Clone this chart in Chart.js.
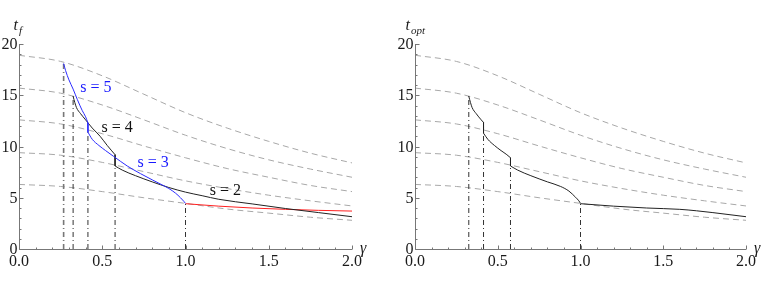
<!DOCTYPE html>
<html>
<head>
<meta charset="utf-8">
<script src="https://cdn.jsdelivr.net/npm/chart.js@4"></script>
<style>
  html, body { margin: 0; padding: 0; background: #fff; }
  #wrap { position: relative; width: 763px; height: 288px; }
  .box { position: absolute; top: 0; height: 288px; }
</style>
</head>
<body>
<div id="wrap">
  <div class="box" style="left:0;width:380px"><canvas id="tf-chart" width="380" height="288"></canvas></div>
  <div class="box" style="left:380px;width:383px"><canvas id="topt-chart" width="383" height="288"></canvas></div>
</div>
<script>
const SERIF = '"Liberation Serif", serif';

// axes / ticks
const xTickValues = [0, 0.5, 1, 1.5, 2];
const xTickLabels = ['0.0', '0.5', '1.0', '1.5', '2.0'];
const yTickValues = [0, 5, 10, 15, 20];
const yTickLabels = ['0', '5', '10', '15', '20'];

// dashed reference curves (same on both panels)
const gammaGrid = [0, 0.25, 0.5, 0.75, 1, 1.25, 1.5, 1.75, 2];
const level6 = [18.9, 18.3, 16.9, 15.1, 13.3, 11.8, 10.5, 9.35, 8.4];
const level5 = [15.7, 15.2, 14.05, 12.6, 11.1, 9.8, 8.7, 7.8, 7.0];
const level4 = [12.6, 12.2, 11.25, 10.05, 8.9, 7.85, 7.0, 6.2, 5.6];
const level3 = [9.4, 9.15, 8.45, 7.55, 6.65, 5.9, 5.25, 4.7, 4.2];
const level2 = [6.3, 6.1, 5.6, 5.0, 4.45, 3.9, 3.5, 3.1, 2.8];

// left panel: t_f branches
const s5Gamma = [0.268, 0.28, 0.30, 0.325, 0.35, 0.38, 0.40, 0.414];
const s5T     = [18.1, 17.4, 16.5, 15.6, 14.6, 13.5, 12.9, 12.3];
const s4Gamma = [0.325, 0.335, 0.345, 0.37, 0.40, 0.44, 0.487, 0.53, 0.577];
const s4T     = [14.9, 14.3, 13.8, 13.2, 12.6, 11.8, 11.0, 10.1, 9.2];
const s3Gamma = [0.414, 0.44, 0.48, 0.52, 0.567, 0.65, 0.73, 0.8, 0.86, 0.9, 0.94, 0.97, 0.99, 1.0];
const s3T     = [11.4, 10.7, 10.1, 9.6, 9.05, 8.1, 7.35, 6.75, 6.25, 5.9, 5.45, 5.0, 4.65, 4.45];
const s2Gamma = [0.577, 0.62, 0.7, 0.8, 0.9, 1.0, 1.1, 1.2, 1.4, 1.6, 1.8, 2.0];
const s2T     = [8.1, 7.7, 7.15, 6.55, 6.0, 5.55, 5.2, 4.85, 4.4, 3.95, 3.55, 3.15];
const redGamma = [1.0, 1.2, 1.4, 1.6, 1.8, 2.0];
const redT     = [4.42, 4.18, 4.0, 3.87, 3.77, 3.7];
const leftSwitchGamma = [0.268, 0.325, 0.414, 0.577, 1.0];
const leftSwitchTop   = [18.1, 14.9, 11.4, 8.1, 4.4];

// right panel: t_opt
const optAGamma = [0.325, 0.335, 0.345, 0.37, 0.40, 0.414];
const optAT     = [14.9, 14.3, 13.8, 13.2, 12.6, 12.35];
const optBGamma = [0.414, 0.44, 0.48, 0.52, 0.555, 0.577];
const optBT     = [11.3, 10.7, 10.1, 9.6, 9.2, 8.9];
const optCGamma = [0.577, 0.62, 0.7, 0.8, 0.88, 0.93, 0.97, 0.99, 1.0];
const optCT     = [8.1, 7.7, 7.15, 6.55, 6.1, 5.65, 5.05, 4.7, 4.45];
const optDGamma = [1.0, 1.2, 1.4, 1.6, 1.7, 1.8, 2.0];
const optDT     = [4.42, 4.18, 4.0, 3.87, 3.73, 3.55, 3.15];
const rightSwitchGamma = [0.325, 0.414, 0.577, 1.0];
const rightSwitchTop   = [14.9, 12.0, 8.1, 4.4];

// branch labels on the left panel
const branchLabels = ['s = 5', 's = 4', 's = 3', 's = 2'];
const branchLabelGamma = [0.462, 0.589, 0.805, 1.24];
const branchLabelT = [15.7, 11.8, 8.4, 5.66];
const branchLabelColor = ['#1a1aff', '#111', '#1a1aff', '#111'];

const pts = (xs, ys) => xs.map((x, i) => ({ x, y: ys[i] }));

function dashedLevels() {
  return [level6, level5, level4, level3, level2].map(lv => ({
    data: pts(gammaGrid, lv),
    borderColor: '#a8a8a8',
    borderWidth: 1,
    borderDash: [6, 4],
    cubicInterpolationMode: 'monotone',
    order: 10
  }));
}

function switchLines(gs, tops, first) {
  return gs.map((g, i) => ({
    data: [{ x: g, y: 0 }, { x: g, y: tops[i] }],
    borderColor: (first && i === 0) ? '#777' : '#333',
    borderWidth: (first && i === 0) ? 1.6 : 1,
    borderDash: [5, 3, 1, 3],
    order: 5
  }));
}

function curve(xs, ys, color) {
  return {
    data: pts(xs, ys),
    borderColor: color,
    borderWidth: 1,
    cubicInterpolationMode: 'monotone',
    order: 1
  };
}

function drop(g, top, bottom, color) {
  return { data: [{ x: g, y: top }, { x: g, y: bottom }], borderColor: color, borderWidth: 1, order: 1 };
}

// Mathematica-like axes drawn through the chart's scales
const axesPlugin = {
  id: 'mmaAxes',
  afterDraw(chart, args, opts) {
    const { ctx, scales: { x, y } } = chart;
    const x0 = Math.round(x.getPixelForValue(0)) + 0.5;
    const y0 = Math.round(y.getPixelForValue(0)) + 0.5;
    const xEnd = x.getPixelForValue(2);
    const yTop = y.getPixelForValue(20);
    ctx.save();
    ctx.strokeStyle = '#777';
    ctx.lineWidth = 1;
    ctx.beginPath();
    ctx.moveTo(x0, yTop); ctx.lineTo(x0, y0); ctx.lineTo(xEnd, y0);
    for (let i = 0; i <= 20; i++) {
      const px = Math.round(x.getPixelForValue(i / 10)) + 0.5;
      const len = i % 5 === 0 ? 4 : 2;
      ctx.moveTo(px, y0); ctx.lineTo(px, y0 - len);
    }
    for (let i = 0; i <= 20; i++) {
      const py = Math.round(y.getPixelForValue(i)) + 0.5;
      const len = i % 5 === 0 ? 4 : 2;
      ctx.moveTo(x0, py); ctx.lineTo(x0 + len, py);
    }
    ctx.stroke();

    ctx.fillStyle = '#1a1a1a';
    ctx.font = '16px ' + SERIF;
    ctx.textAlign = 'center';
    ctx.textBaseline = 'alphabetic';
    xTickValues.forEach((v, i) => ctx.fillText(xTickLabels[i], x.getPixelForValue(v), y0 + 16));
    ctx.textAlign = 'right';
    ctx.textBaseline = 'middle';
    yTickValues.forEach((v, i) => ctx.fillText(yTickLabels[i], x0 - 2, y.getPixelForValue(v) + 1));

    // axis names
    ctx.textAlign = 'left';
    ctx.textBaseline = 'alphabetic';
    ctx.font = 'italic 16px ' + SERIF;
    const tx = x0 + opts.tShift;
    ctx.fillText('t', tx, 30);
    const tw = ctx.measureText('t').width;
    ctx.font = 'italic 11px ' + SERIF;
    ctx.fillText(opts.sub, tx + tw + 1, 34);
    ctx.font = 'italic 16px ' + SERIF;
    ctx.fillText('\u03b3', xEnd + 8, 253);
    ctx.restore();
  }
};

const labelPlugin = {
  id: 'branchLabels',
  afterDatasetsDraw(chart, args, opts) {
    if (!opts.show) return;
    const { ctx, scales: { x, y } } = chart;
    ctx.save();
    ctx.font = '16px ' + SERIF;
    ctx.textAlign = 'center';
    ctx.textBaseline = 'middle';
    branchLabels.forEach((t, i) => {
      ctx.fillStyle = branchLabelColor[i];
      ctx.fillText(t, x.getPixelForValue(branchLabelGamma[i]), y.getPixelForValue(branchLabelT[i]));
    });
    ctx.restore();
  }
};

function baseOptions(padLeft, padRight, sub, tShift, showLabels) {
  return {
    responsive: false,
    animation: false,
    layout: { padding: { left: padLeft, right: padRight, top: 44, bottom: 39 } },
    elements: { point: { radius: 0 }, line: { fill: false } },
    plugins: {
      legend: { display: false },
      tooltip: { enabled: false },
      mmaAxes: { sub, tShift },
      branchLabels: { show: showLabels }
    },
    scales: {
      x: { type: 'linear', min: 0, max: 2, display: false },
      y: { type: 'linear', min: 0, max: 20, display: false }
    }
  };
}

new Chart(document.getElementById('tf-chart'), {
  type: 'line',
  data: {
    datasets: [
      curve(s5Gamma, s5T, '#2b2bff'),
      drop(0.414, 12.3, 11.4, '#2b2bff'),
      curve(s3Gamma, s3T, '#2b2bff'),
      curve(s4Gamma, s4T, '#222'),
      drop(0.577, 9.2, 8.1, '#222'),
      curve(s2Gamma, s2T, '#222'),
      curve(redGamma, redT, '#ff2020'),
      ...switchLines(leftSwitchGamma, leftSwitchTop, true),
      ...dashedLevels()
    ]
  },
  options: baseOptions(19, 28, 'f', -6, true),
  plugins: [axesPlugin, labelPlugin]
});

new Chart(document.getElementById('topt-chart'), {
  type: 'line',
  data: {
    datasets: [
      curve(optAGamma, optAT, '#222'),
      drop(0.414, 12.35, 11.3, '#222'),
      curve(optBGamma, optBT, '#222'),
      drop(0.577, 8.9, 8.1, '#222'),
      curve(optCGamma, optCT, '#222'),
      curve(optDGamma, optDT, '#222'),
      ...switchLines(rightSwitchGamma, rightSwitchTop, false),
      ...dashedLevels()
    ]
  },
  options: baseOptions(35, 17, 'opt', -10, false),
  plugins: [axesPlugin, labelPlugin]
});
</script>
</body>
</html>
